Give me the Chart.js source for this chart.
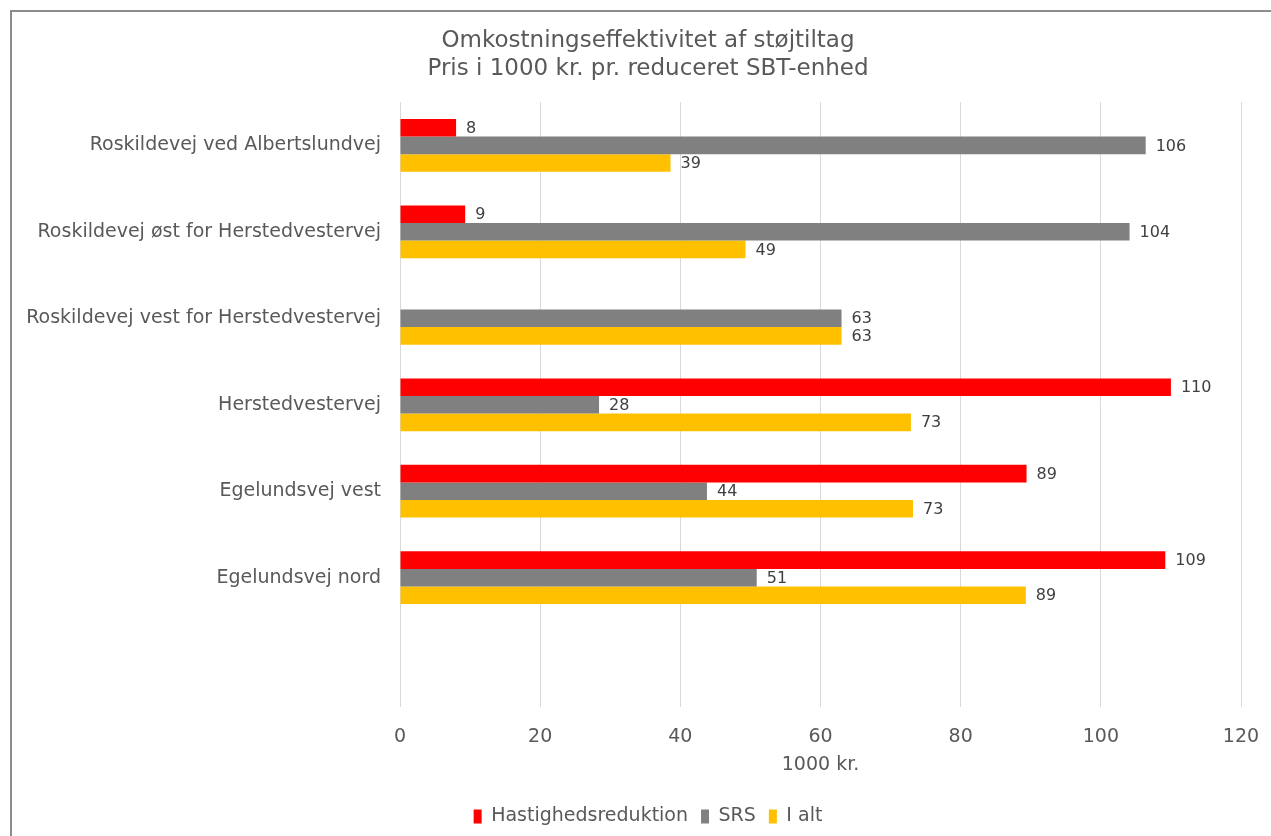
<!DOCTYPE html>
<html>
<head>
<meta charset="utf-8">
<script src="https://cdn.jsdelivr.net/npm/chart.js@4"></script>
<style>
  html,body{margin:0;padding:0;background:#fff;overflow:hidden}
  #frame{position:absolute;left:10px;top:10px;width:1276px;height:840px;border:2px solid #8c8c8c;box-sizing:border-box;background:#fff}
  #wrap{position:absolute;left:0;top:0;width:1272px;height:836px}
</style>
</head>
<body>
<div id="frame"><div id="wrap"><canvas id="chart"></canvas></div></div>
<script>
// categories (last slot is empty in the original)
const categories = ['Roskildevej ved Albertslundvej','Roskildevej øst for Herstedvestervej','Roskildevej vest for Herstedvestervej','Herstedvestervej','Egelundsvej vest','Egelundsvej nord',''];
const hastighed = [8, 9.3, null, 110, 89.4, 109.2, null];
const srs = [106.4, 104.1, 63, 28.4, 43.8, 50.9, null];
const iAlt = [38.6, 49.3, 63, 72.9, 73.2, 89.3, null];
const xTicks = [0, 20, 40, 60, 80, 100, 120];

const FONT = "'DejaVu Sans', Verdana, sans-serif";
const TXT = '#595959';

// draw value labels next to each bar end
const valueLabels = {
  id: 'valueLabels',
  afterDatasetsDraw(chart){
    const ctx = chart.ctx;
    ctx.save();
    ctx.font = '16px ' + FONT;
    ctx.fillStyle = '#404040';
    ctx.textBaseline = 'middle';
    ctx.textAlign = 'left';
    chart.data.datasets.forEach((ds, i)=>{
      const meta = chart.getDatasetMeta(i);
      meta.data.forEach((bar, j)=>{
        const v = ds.data[j];
        if (v == null) return;
        ctx.fillText(String(Math.round(v)), bar.x + 10, bar.y + 1);
      });
    });
    ctx.restore();
  }
};

// title and legend are centred on the whole frame, not on the padded area
const centerBlocks = {
  id: 'centerBlocks',
  afterLayout(chart){
    [chart.titleBlock, chart.legend].forEach(b=>{
      if(!b) return;
      b.left = 0; b.right = chart.width; b.width = chart.width;
    });
  }
};

new Chart(document.getElementById('chart'), {
  type: 'bar',
  data: {
    labels: categories,
    datasets: [
      {label:'Hastighedsreduktion', data:hastighed, backgroundColor:'#FF0000'},
      {label:'SRS', data:srs, backgroundColor:'#808080'},
      {label:'I alt', data:iAlt, backgroundColor:'#FFC000'}
    ]
  },
  options: {
    indexAxis: 'y',
    responsive: true,
    maintainAspectRatio: false,
    animation: false,
    categoryPercentage: 0.61,
    barPercentage: 1.0,
    layout: {padding:{top:4, right:43, bottom:12, left:0}},
    plugins: {
      title: {
        display: true,
        text: ['Omkostningseffektivitet af støjtiltag','Pris i 1000 kr. pr. reduceret SBT-enhed'],
        color: TXT,
        font: {family: FONT, size: 23, weight: 'normal', lineHeight: 1.22},
        padding: {top: 11, bottom: 19}
      },
      legend: {
        position: 'bottom',
        labels: {
          color: TXT,
          font: {family: FONT, size: 19},
          boxWidth: 8,
          boxHeight: 14,
          padding: 13
        }
      },
      tooltip: {enabled:false}
    },
    scales: {
      x: {
        min: 0, max: 120,
        afterBuildTicks(axis){ axis.ticks = xTicks.map(v=>({value:v})); },
        grid: {color:'#d9d9d9', drawTicks:false},
        border: {display:false},
        ticks: {color:TXT, font:{family:FONT, size:19}, padding:18},
        title: {display:true, text:'1000 kr.', color:TXT, font:{family:FONT, size:19}, padding:{top:-13, bottom:18}}
      },
      y: {
        afterFit(axis){ axis.width = 388; },
        grid: {display:false, drawTicks:false},
        border: {display:false},
        ticks: {color:TXT, font:{family:FONT, size:19}, padding:19}
      }
    }
  },
  plugins: [valueLabels, centerBlocks]
});
</script>
</body>
</html>
